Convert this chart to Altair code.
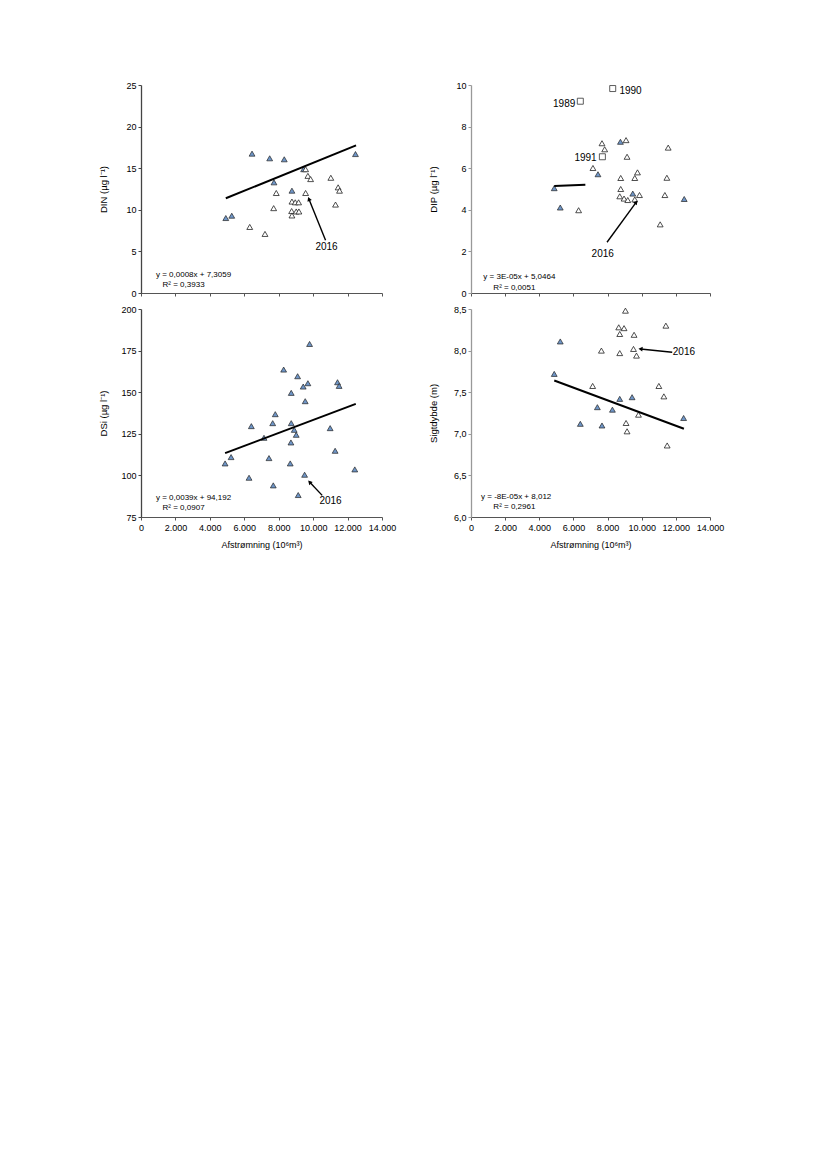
import math
import altair as alt
import pandas as pd

# ---------------- data ----------------
X_TICKS = [0, 2000, 4000, 6000, 8000, 10000, 12000, 14000]

# DIN
din_f_x = [4926, 5273, 6450, 7476, 8322, 7725, 8768, 9446, 12459]
din_f_y = [9.01, 9.29, 16.75, 16.19, 16.07, 13.3, 12.3, 14.88, 16.7]
din_o_x = [9562, 9695, 9852, 11028, 11451, 11532, 11300, 7858, 9562, 7707,
           8768, 8960, 9156, 8750, 8768, 9017, 9173, 6317, 7203]
din_o_y = [14.88, 14.08, 13.69, 13.85, 12.7, 12.3, 10.63, 12.02, 12.02, 10.2,
           10.99, 10.9, 10.9, 9.85, 9.32, 9.8, 9.8, 7.94, 7.1]
din_trend_x = [4926, 12494]
din_trend_y = [11.39, 17.74]
din_arrow = [(10721, 6.35), (9753, 11.31)]
din_label = (10779, 5.48)
din_eq = ["y = 0,0008x + 7,3059", "R² = 0,3933"]
din_eq_x = [869, 1252]
din_eq_y = [2.15, 1.0]

# DIP
dip_f_x = [4876, 5229, 7438, 8754, 9477, 12490]
dip_f_y = [5.04, 4.11, 5.71, 7.27, 4.78, 4.52]
dip_o_x = [6304, 7144, 7673, 7831, 9083, 9142, 11551, 8771, 9594, 9753,
           11474, 8771, 8713, 8966, 9183, 9594, 9870, 11357, 11082]
dip_o_y = [3.98, 6.01, 7.20, 6.91, 7.35, 6.55, 6.99, 5.53, 5.53, 5.80,
           5.54, 5.00, 4.65, 4.54, 4.47, 4.50, 4.71, 4.71, 3.30]
dip_sq_x = [6404, 8301, 7696]
dip_sq_y = [9.22, 9.83, 6.55]
dip_sq_lab = ["1989", "1990", "1991"]
dip_sq_lab_x = [6110, 8695, 7361]
dip_sq_lab_y = [9.10, 9.72, 6.50]
dip_sq_lab_align = ["right", "left", "right"]
dip_trend_x = [4876, 6698]
dip_trend_y = [5.14, 5.20]
dip_arrow = [(7967, 2.44), (9671, 4.36)]
dip_label = (7714, 1.87)
dip_eq = ["y = 3E-05x + 5,0464", "R² = 0,0051"]
dip_eq_x = [723, 1310]
dip_eq_y = [0.76, 0.24]

# DSi
dsi_f_x = [9793, 8287, 9098, 9695, 9423, 11416, 11509, 8727, 9539, 7800,
           6410, 7650, 8727, 8901, 9017, 10988, 7145, 8710, 11277, 5233,
           7435, 4885, 8669, 12419, 9504, 6276, 7684, 9133]
dsi_f_y = [179, 163.6, 159.6, 155.4, 153.4, 156, 153.8, 149.6, 144.6, 136.8,
           129.6, 131.4, 131.4, 127.4, 124.4, 128.4, 122.6, 119.8, 114.8, 111,
           110.4, 107.2, 107.2, 103.6, 100.4, 98.6, 94, 88.2]
dsi_o_x = []
dsi_o_y = []
dsi_trend_x = [4885, 12477]
dsi_trend_y = [113.4, 143]
dsi_arrow = [(10524, 88), (9793, 96)]
dsi_label = (11010, 84.4)
dsi_eq = ["y = 0,0039x + 94,192", "R² = 0,0907"]
dsi_eq_x = [869, 1252]
dsi_eq_y = [86.4, 80.6]

# Sigtdybde
sig_f_x = [4876, 5229, 6404, 7403, 7673, 8284, 8713, 9436, 12455]
sig_f_y = [7.72, 8.11, 7.12, 7.32, 7.10, 7.29, 7.42, 7.44, 7.19]
sig_o_x = [9047, 8654, 8966, 8713, 9553, 11415, 7638, 8713, 9518, 9694,
           7126, 11004, 11298, 9811, 9083, 9142, 11492]
sig_o_y = [8.48, 8.28, 8.27, 8.20, 8.19, 8.30, 8.00, 7.97, 8.02, 7.94,
           7.575, 7.575, 7.45, 7.23, 7.13, 7.03, 6.86]
sig_trend_x = [4876, 12473]
sig_trend_y = [7.64, 7.06]
sig_arrow = [(11786, 7.98), (9929, 8.02)]
sig_label = (12473, 7.98)
sig_eq = ["y = -8E-05x + 8,012", "R² = 0,2961"]
sig_eq_x = [587, 1310]
sig_eq_y = [6.235, 6.115]

FONT = "Liberation Sans"
BLUE = "#6f96c8"


def panel(width, height, ydom, yvals, ytitle, yexpr, show_x, ycolor,
          fx, fy, ox, oy, tx, ty, arrow, label, eq, eqx, eqy,
          sq=None):
    xscale = alt.Scale(domain=[0, 14000], nice=False, zero=False)
    yscale = alt.Scale(domain=ydom, nice=False, zero=False)
    xaxis = alt.Axis(values=X_TICKS, grid=False, tickSize=3, domainColor="#555",
                     tickColor="#555", labelFontSize=9, labelColor="black",
                     labelExpr="replace(format(datum.value, ',d'), ',', '.')",
                     labelOverlap=False, labelFlush=False, labelPadding=3,
                     titleFontSize=9, titleFontWeight="normal", titleColor="black",
                     titlePadding=8, labels=show_x)
    yaxis = alt.Axis(values=yvals, grid=False, tickSize=3, domainColor=ycolor,
                     domainWidth=1.3, tickColor=ycolor, labelFontSize=9,
                     labelColor="black", labelExpr=yexpr, labelOverlap=False,
                     labelFlush=False, titleFontSize=9.5,
                     titleFontWeight="normal", titleColor="black",
                     titleX=-38, titleY=height / 2, titleAngle=270,
                     titleAlign="center", titleBaseline="middle")
    xtitle = "Afstrømning (10⁶m³)" if show_x else ""
    X = alt.X("x:Q", scale=xscale, axis=xaxis, title=xtitle)
    Y = alt.Y("y:Q", scale=yscale, axis=yaxis, title=ytitle)

    layers = []
    layers.append(alt.Chart(pd.DataFrame({"x": fx, "y": fy})).mark_point(
        shape="triangle-up", filled=True, fill=BLUE, stroke="#222",
        strokeWidth=0.7, size=34, opacity=1).encode(x=X, y=Y))
    if ox:
        layers.append(alt.Chart(pd.DataFrame({"x": ox, "y": oy})).mark_point(
            shape="triangle-up", filled=True, fill="white", stroke="#222",
            strokeWidth=0.8, size=34, opacity=1).encode(x=X, y=Y))
    if sq is not None:
        sx, sy, lab, lx, ly, la = sq
        layers.append(alt.Chart(pd.DataFrame({"x": sx, "y": sy})).mark_point(
            shape="square", filled=True, fill="white", stroke="#333",
            strokeWidth=0.8, size=36, opacity=1).encode(x=X, y=Y))
        for t, xx, yy, aa in zip(lab, lx, ly, la):
            layers.append(alt.Chart(pd.DataFrame({"x": [xx], "y": [yy], "t": [t]})).mark_text(
                align=aa, baseline="middle", fontSize=10, font=FONT, color="black"
            ).encode(x=X, y=Y, text="t:N"))
    layers.append(alt.Chart(pd.DataFrame({"x": tx, "y": ty})).mark_line(
        color="black", strokeWidth=2).encode(x=X, y=Y))
    # arrow
    (ax0, ay0), (ax1, ay1) = arrow
    layers.append(alt.Chart(pd.DataFrame({"x": [ax0, ax1], "y": [ay0, ay1], "o": [0, 1]})).mark_line(
        color="black", strokeWidth=1.4).encode(x=X, y=Y, order="o:Q"))
    sxp = width / 14000.0
    syp = height / (ydom[1] - ydom[0])
    dx = (ax1 - ax0) * sxp
    dy = -(ay1 - ay0) * syp
    ang = math.degrees(math.atan2(dx, -dy)) % 360
    layers.append(alt.Chart(pd.DataFrame({"x": [ax1], "y": [ay1]})).mark_point(
        shape="triangle-up", filled=True, color="black", size=22, angle=ang,
        opacity=1).encode(x=X, y=Y))
    layers.append(alt.Chart(pd.DataFrame({"x": [label[0]], "y": [label[1]], "t": ["2016"]})).mark_text(
        align="center", baseline="middle", fontSize=10, font=FONT, color="black"
    ).encode(x=X, y=Y, text="t:N"))
    layers.append(alt.Chart(pd.DataFrame({"x": eqx, "y": eqy, "t": eq})).mark_text(
        align="left", baseline="middle", fontSize=8, font=FONT, color="black"
    ).encode(x=X, y=Y, text="t:N"))
    return alt.layer(*layers).properties(width=width, height=height)


comma1 = "replace(format(datum.value, '.1f'), '.', ',')"
intfmt = "format(datum.value, 'd')"

p1 = panel(241, 208, [0, 25], [0, 5, 10, 15, 20, 25], "DIN (µg l⁻¹)", intfmt, False, "#444",
           din_f_x, din_f_y, din_o_x, din_o_y, din_trend_x, din_trend_y,
           din_arrow, din_label, din_eq, din_eq_x, din_eq_y)
p2 = panel(239, 208, [0, 10], [0, 2, 4, 6, 8, 10], "DIP (µg l⁻¹)", intfmt, False, "#999",
           dip_f_x, dip_f_y, dip_o_x, dip_o_y, dip_trend_x, dip_trend_y,
           dip_arrow, dip_label, dip_eq, dip_eq_x, dip_eq_y,
           sq=(dip_sq_x, dip_sq_y, dip_sq_lab, dip_sq_lab_x, dip_sq_lab_y, dip_sq_lab_align))
p3 = panel(241, 208, [75, 200], [75, 100, 125, 150, 175, 200], "DSi (µg l⁻¹)", intfmt, True, "#444",
           dsi_f_x, dsi_f_y, dsi_o_x, dsi_o_y, dsi_trend_x, dsi_trend_y,
           dsi_arrow, dsi_label, dsi_eq, dsi_eq_x, dsi_eq_y)
p4 = panel(239, 208, [6, 8.5], [6, 6.5, 7, 7.5, 8, 8.5], "Sigtdybde (m)", comma1, True, "#999",
           sig_f_x, sig_f_y, sig_o_x, sig_o_y, sig_trend_x, sig_trend_y,
           sig_arrow, sig_label, sig_eq, sig_eq_x, sig_eq_y)

chart = alt.concat(p1, p2, p3, p4, columns=2,
                   spacing=alt.RowColnumber(row=16, column=89),
                   bounds="flush").properties(
    padding={"left": 90, "top": 73, "right": 5, "bottom": 5}
).configure(font=FONT).configure_view(stroke=None)

chart.save("out.html", embed_options={"renderer": "svg", "actions": False})
